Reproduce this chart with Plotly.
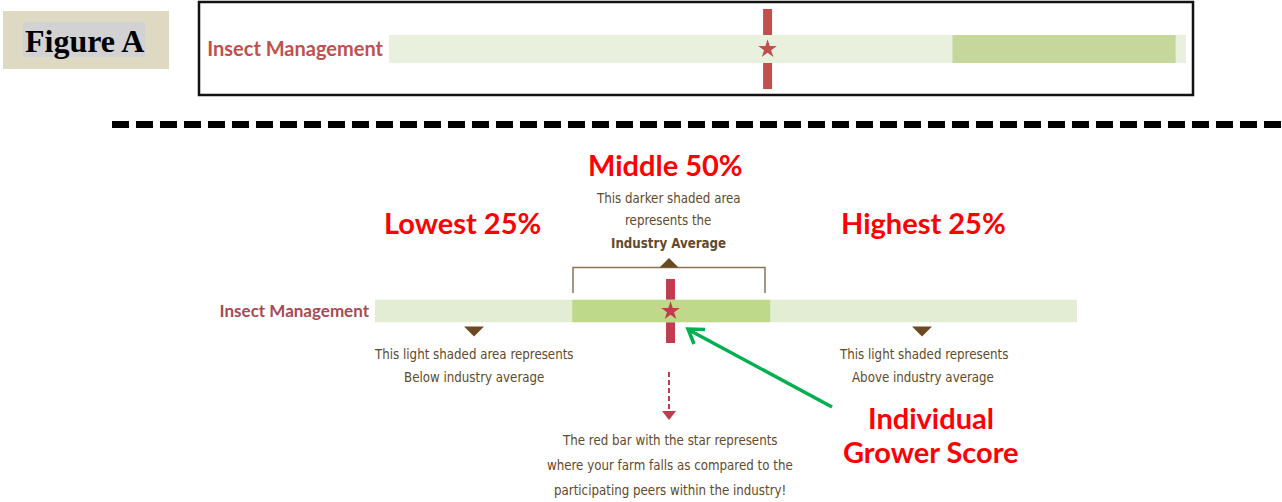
import plotly.graph_objects as go

W, H = 1282, 502

# ---------------- data ----------------
category = ["Insect Management"]

# Figure A (example report row): positions along the bar, 0-100
top_full = [0, 100]
top_band = [70.7, 98.7]      # darker shaded (middle 50%) area
top_score = 47.5             # grower score (red bar + star)

# Explanation row
bot_full = [0, 100]
bot_band = [28.1, 56.3]
bot_score = 42.1

headings = ["Lowest 25%", "Middle 50%", "Highest 25%"]
middle_note = ["This darker shaded area", "represents the", "<b>Industry Average</b>"]
low_note = ["This light shaded area represents", "Below industry average"]
high_note = ["This light shaded represents", "Above industry average"]
score_note = ["The red bar with the star represents",
              "where your farm falls as compared to the",
              "participating peers within the industry!"]
score_title = ["Individual", "Grower Score"]

# ---------------- styles ----------------
LIGHT_TOP, DARK_TOP, RED_TOP = "#E9F1DE", "#C5D79B", "#C0504D"
LIGHT_BOT, DARK_BOT, RED_BOT = "#E3EDD4", "#BFD98A", "#C33B4E"
BROWN = "#624A2C"
HEAD_RED = "#FF0000"
GREEN = "#00B050"
BROWN_FILL = "#6B4A22"
BRACKET = "#8A7356"
NARROW = "DejaVu Sans Condensed, Liberation Sans Narrow, Roboto, sans-serif"
HEAD_FONT = "Lato, Open Sans, sans-serif"
NOTE_SIZE = 13.2


def px(x):
    return x / W


def py(y):
    return 1 - y / H


fig = go.Figure()


def add_row(full, band, score, light, dark, red, xa, ya):
    fig.add_trace(go.Bar(y=category, x=[full[1] - full[0]], base=[full[0]], orientation="h",
                         width=0.35, marker=dict(color=light, line=dict(width=0)),
                         xaxis=xa, yaxis=ya, hoverinfo="skip", showlegend=False))
    fig.add_trace(go.Bar(y=category, x=[band[1] - band[0]], base=[band[0]], orientation="h",
                         width=0.35, marker=dict(color=dark, line=dict(width=0)),
                         xaxis=xa, yaxis=ya, hoverinfo="skip", showlegend=False))
    fig.add_trace(go.Scatter(x=[score], y=category, mode="markers",
                             marker=dict(symbol="star", size=14, color=red, line=dict(width=0)),
                             xaxis=xa, yaxis=ya, hoverinfo="skip", showlegend=False,
                             cliponaxis=False))
    fig.add_shape(type="line", xref=xa, yref=f"{ya} domain", x0=score, x1=score, y0=0, y1=1,
                  line=dict(color=red, width=9), layer="below")


add_row(top_full, top_band, top_score, LIGHT_TOP, DARK_TOP, RED_TOP, "x", "y")
add_row(bot_full, bot_band, bot_score, LIGHT_BOT, DARK_BOT, RED_BOT, "x2", "y2")

axis_common = dict(showgrid=False, zeroline=False, showline=False, fixedrange=True)
fig.update_layout(
    width=W, height=H, margin=dict(l=0, r=0, t=0, b=0),
    paper_bgcolor="white", plot_bgcolor="rgba(0,0,0,0)",
    barmode="overlay", showlegend=False,
    xaxis=dict(domain=[389 / W, 1186 / W], range=[0, 100], visible=False, anchor="y", **axis_common),
    yaxis=dict(domain=[py(89), py(9)], range=[-0.5, 0.5], type="category", anchor="x",
               ticks="", ticklabelstandoff=5,
               tickfont=dict(family=HEAD_FONT, size=20, color=RED_TOP, weight="bold"), **axis_common),
    xaxis2=dict(domain=[375 / W, 1077 / W], range=[0, 100], visible=False, anchor="y2", **axis_common),
    yaxis2=dict(domain=[py(343), py(279)], range=[-0.5, 0.5], type="category", anchor="x2",
                ticks="", ticklabelstandoff=5,
                tickfont=dict(family=HEAD_FONT, size=17, color="#A84A55", weight="bold"), **axis_common),
)

# ---------------- decorations ----------------
shapes = []
# Figure A label boxes
shapes.append(dict(type="rect", xref="paper", yref="paper", x0=px(3), x1=px(169), y0=py(69), y1=py(11),
                   fillcolor="#DED9C3", line=dict(width=0), layer="below"))
shapes.append(dict(type="rect", xref="paper", yref="paper", x0=px(23), x1=px(145), y0=py(57), y1=py(22),
                   fillcolor="#D2D2D2", line=dict(width=0), layer="below"))
# frame around Figure A row
shapes.append(dict(type="rect", xref="paper", yref="paper", x0=px(199), x1=px(1193), y0=py(95), y1=py(2),
                   line=dict(color="#111111", width=2.5), fillcolor="rgba(0,0,0,0)"))
# dashed separator
shapes.append(dict(type="line", xref="paper", yref="paper", x0=px(112), x1=px(1282), y0=py(124.5), y1=py(124.5),
                   line=dict(color="black", width=7, dash="17px,7px")))
# bracket over middle band
shapes.append(dict(type="path", xref="paper", yref="paper",
                   path=f"M {px(573)},{py(293)} L {px(573)},{py(267.5)} L {px(765)},{py(267.5)} L {px(765)},{py(293)}",
                   line=dict(color=BRACKET, width=1.5)))


def tri(cx, ytop, w, h, up, color):
    if up:
        p = f"M {px(cx - w / 2)},{py(ytop + h)} L {px(cx + w / 2)},{py(ytop + h)} L {px(cx)},{py(ytop)} Z"
    else:
        p = f"M {px(cx - w / 2)},{py(ytop)} L {px(cx + w / 2)},{py(ytop)} L {px(cx)},{py(ytop + h)} Z"
    return dict(type="path", xref="paper", yref="paper", path=p, fillcolor=color, line=dict(width=0))


shapes.append(tri(669, 258, 19, 9.5, True, BROWN_FILL))
shapes.append(tri(474, 326.5, 20, 10, False, BROWN_FILL))
shapes.append(tri(922, 326.5, 20, 10, False, BROWN_FILL))
# red dashed arrow
shapes.append(dict(type="line", xref="paper", yref="paper", x0=px(669), x1=px(669), y0=py(372), y1=py(411),
                   line=dict(color=RED_BOT, width=2, dash="5px,3px")))
shapes.append(tri(669, 411, 14, 9, False, RED_BOT))
# green arrow
shapes.append(dict(type="path", xref="paper", yref="paper",
                   path=f"M {px(832)},{py(407)} L {px(689)},{py(330)}",
                   line=dict(color=GREEN, width=3.5)))
shapes.append(dict(type="path", xref="paper", yref="paper",
                   path=f"M {px(705)},{py(329.5)} L {px(688)},{py(329)} L {px(694)},{py(344)}",
                   line=dict(color=GREEN, width=3.5)))
fig.update_layout(shapes=list(fig.layout.shapes) + shapes)

# ---------------- texts ----------------
ann = []


def text(x, y, s, size, color, family, weight="normal"):
    ann.append(dict(x=px(x), y=py(y), xref="paper", yref="paper", text=s, showarrow=False,
                    xanchor="center", yanchor="middle",
                    font=dict(family=family, size=size, color=color, weight=weight)))


text(84, 41, "<b>Figure A</b>", 32, "black", "Liberation Serif, Times New Roman, serif")
text(463, 222, headings[0], 29, HEAD_RED, HEAD_FONT, "bold")
text(665, 165, headings[1], 29, HEAD_RED, HEAD_FONT, "bold")
text(923, 222, headings[2], 29, HEAD_RED, HEAD_FONT, "bold")
for i, s in enumerate(middle_note):
    text(668, 198 + 22.5 * i, s, NOTE_SIZE, BROWN, NARROW)
for i, s in enumerate(low_note):
    text(474, 354 + 23 * i, s, NOTE_SIZE, BROWN, NARROW)
for i, s in enumerate(high_note):
    text(923, 354 + 23 * i, s, NOTE_SIZE, BROWN, NARROW)
for i, s in enumerate(score_note):
    text(670, 440 + 25 * i, s, NOTE_SIZE, BROWN, NARROW)
text(931, 417, score_title[0], 29, HEAD_RED, HEAD_FONT, "bold")
text(931, 451, score_title[1], 29, HEAD_RED, HEAD_FONT, "bold")
fig.update_layout(annotations=ann)

fig.write_html("out.html", config={"displayModeBar": False},
               post_script="document.body.style.margin='0';")
